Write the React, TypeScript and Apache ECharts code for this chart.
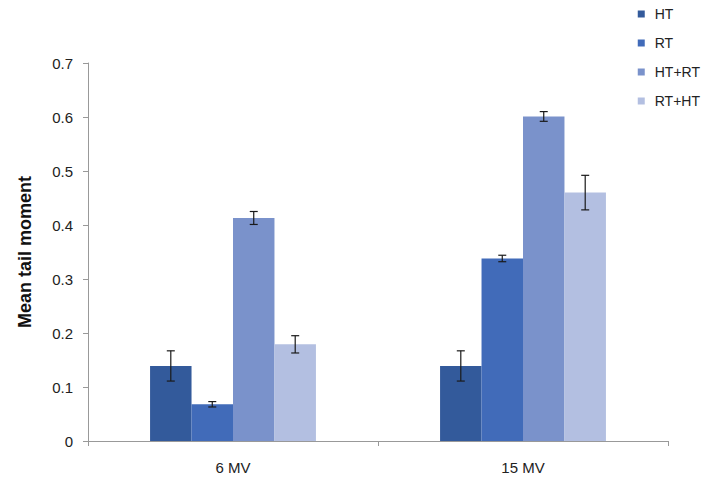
import React, { useEffect, useRef } from "react";
import * as echarts from "echarts";

const categories = ["6 MV", "15 MV"];
const seriesNames = ["HT", "RT", "HT+RT", "RT+HT"];
const htValues = [0.139, 0.139];
const rtValues = [0.068, 0.338];
const htrtValues = [0.413, 0.601];
const rthtValues = [0.179, 0.46];
const htErrors = [0.028, 0.028];
const rtErrors = [0.005, 0.006];
const htrtErrors = [0.012, 0.009];
const rthtErrors = [0.016, 0.032];
const yTicks = [0, 0.1, 0.2, 0.3, 0.4, 0.5, 0.6, 0.7];
const colors = ["#335a9b", "#416bb9", "#7a92cb", "#b3bfe1"];

const allValues = [htValues, rtValues, htrtValues, rthtValues];
const allErrors = [htErrors, rtErrors, htrtErrors, rthtErrors];

const CAT_GAP = 0.428;

export default function App() {
  const ref = useRef<HTMLDivElement>(null);
  useEffect(() => {
    if (!ref.current) return;
    const chart = echarts.init(ref.current, undefined, { renderer: "svg" });
    const barSeries = seriesNames.map((name, i) => ({
      name,
      type: "bar",
      data: allValues[i],
      itemStyle: { color: colors[i] },
      barGap: "0%",
      barCategoryGap: CAT_GAP * 100 + "%",
    }));
    const errSeries = seriesNames.map((name, i) => ({
      type: "custom",
      name: name + " err",
      z: 10,
      data: categories.map((_, c) => [c, allValues[i][c], allErrors[i][c]]),
      renderItem: (params: any, api: any) => {
        const c = api.value(0);
        const v = api.value(1);
        const e = api.value(2);
        const band = api.size([1, 0])[0];
        const bw = (band * (1 - CAT_GAP)) / 4;
        const center = api.coord([c, v]);
        const x = center[0] + (i - 1.5) * bw;
        const top = api.coord([c, v + e])[1];
        const bot = api.coord([c, v - e])[1];
        const hw = 4;
        const style = { stroke: "#1a1a1a", lineWidth: 1.2 };
        return {
          type: "group",
          children: [
            { type: "line", shape: { x1: x, y1: top, x2: x, y2: bot }, style },
            { type: "line", shape: { x1: x - hw, y1: top, x2: x + hw, y2: top }, style },
            { type: "line", shape: { x1: x - hw, y1: bot, x2: x + hw, y2: bot }, style },
          ],
        };
      },
    }));
    chart.setOption({
      animation: false,
      textStyle: { fontFamily: "Liberation Sans, Arial, sans-serif" },
      legend: {
        data: seriesNames,
        orient: "vertical",
        right: 3,
        top: 2,
        itemWidth: 7,
        itemHeight: 7,
        itemGap: 15,
        icon: "rect",
        textStyle: {
          fontSize: 14,
          color: "#222",
          padding: [0, 0, 0, 5],
          fontFamily: "Liberation Sans, Arial, sans-serif",
        },
      },
      grid: { left: 88, right: 40, top: 63, bottom: 49, containLabel: false },
      xAxis: {
        type: "category",
        data: categories,
        axisLine: { lineStyle: { color: "#999", width: 1 } },
        axisTick: { show: true, length: 5, lineStyle: { color: "#999" } },
        axisLabel: { color: "#222", fontSize: 15, margin: 19 },
      },
      yAxis: {
        type: "value",
        min: 0,
        max: 0.7,
        interval: 0.1,
        name: "Mean tail moment",
        nameLocation: "middle",
        nameGap: 54,
        nameTextStyle: { fontSize: 18, fontWeight: "bold", color: "#111" },
        axisLine: { show: true, lineStyle: { color: "#999" } },
        axisTick: { show: true, length: 5, lineStyle: { color: "#999" } },
        splitLine: { show: false },
        axisLabel: {
          color: "#222",
          fontSize: 15,
          margin: 15,
          formatter: (v: number) => {
            const t = yTicks.find((y) => Math.abs(y - v) < 1e-6);
            return t === undefined ? "" : String(t);
          },
        },
      },
      series: [...barSeries, ...errSeries],
    });
    return () => chart.dispose();
  }, []);
  return <div ref={ref} style={{ width: 708, height: 490, position: "absolute", left: 0, top: 0 }} />;
}
